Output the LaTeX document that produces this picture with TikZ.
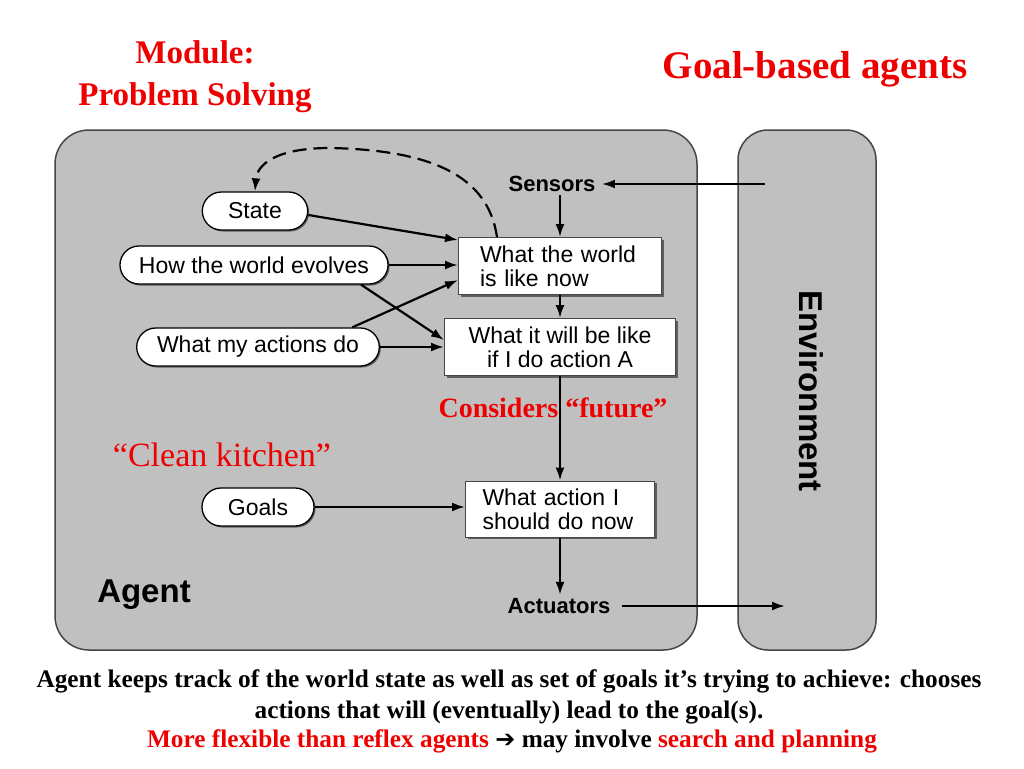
\documentclass[tikz,border=0pt]{standalone}
\usepackage{fontspec}
\setmainfont{Liberation Serif}
\newfontfamily\diafont{Liberation Sans}
\newfontfamily\symfont{DejaVu Sans}
\usetikzlibrary{arrows.meta,shadows,shapes.misc}
\definecolor{panelgray}{RGB}{192,192,192}
\definecolor{edgegray}{RGB}{70,70,70}
\definecolor{titlered}{RGB}{238,0,0}
\tikzset{
  x=1pt,y=-1pt,
  panel/.style={draw=edgegray,line width=1.5pt,fill=panelgray},
  oval/.style={rounded rectangle,draw=black,line width=1.3pt,fill=white,minimum height=38pt,inner xsep=15pt,font=\diafont\fontsize{23}{25}\selectfont,
    drop shadow={shadow xshift=1.5pt,shadow yshift=-1.5pt,fill=edgegray,opacity=0.8}},
  rbox/.style={rectangle,draw=edgegray,line width=1pt,fill=white,align=left,inner xsep=6pt,inner ysep=2pt,font=\diafont\fontsize{23}{24}\selectfont,
    drop shadow={shadow xshift=2pt,shadow yshift=-2pt,fill=edgegray,opacity=0.8}},
  plain/.style={font=\diafont\bfseries\fontsize{22}{24}\selectfont},
  arr/.style={line width=2.2pt,-{Latex[length=13pt,width=9pt]}},
  redtxt/.style={text=titlered},
}
\begin{document}
\begin{tikzpicture}
\useasboundingbox (0,0) rectangle (1024,768);
\fill[white] (0,0) rectangle (1024,768);

% titles
\node[redtxt,font=\bfseries\fontsize{33}{42}\selectfont,align=center] (mod) at (195,77) {Module:\\Problem Solving};
\node[redtxt,font=\bfseries\fontsize{39}{42}\selectfont] (gba) at (815,69) {Goal-based agents};

% panels
\draw[panel,rounded corners=34pt] (55,130) rectangle (697,650);
\draw[panel,rounded corners=30pt] (738,130) rectangle (876,650);
\node[font=\diafont\bfseries\fontsize{33}{35}\selectfont,rotate=-90] (env) at (811,391) {Environment};
\node[font=\diafont\bfseries\fontsize{33}{35}\selectfont] (agent) at (144,595) {Agent};

% nodes
\node[plain] (sens) at (552,184) {Sensors};
\node[plain] (act) at (559,606) {Actuators};
\node[oval,inner xsep=24pt] (state) at (255,211) {State};
\node[oval,inner xsep=17pt] (how) at (254,265) {How the world evolves};
\node[oval,inner xsep=17pt] (what) at (258,347) {What my actions do};
\node[oval,inner xsep=24pt] (goals) at (258,507) {Goals};
\node[rbox,minimum width=203pt,minimum height=57pt,text width=160pt] (b1) at (560,266) {What the world\\is like now};
\node[rbox,minimum width=231pt,minimum height=57pt,align=center] (b2) at (560,347) {What it will be like\\if I do action A};
\node[rbox,minimum width=189pt,minimum height=56pt,text width=155pt] (b3) at (560,509) {What action I\\should do now};

\coordinate (envin) at (765,184);
\coordinate (envout) at (785,607);

% connectors
\draw[arr] (envin) -- ([xshift=3pt]sens.east);
\draw[arr] ([xshift=8pt]act.east) -- (act.east -| envout);
\draw[arr] (b1.north |- sens.south) -- (b1.north);
\draw[arr] (b1.south) -- (b2.north);
\draw[arr] (b2.south) -- (b3.north);
\draw[arr] (b3.south) -- (b3.south |- act.north);
\draw[arr] ([yshift=-4pt]state.east) -- ([yshift=26pt]b1.west);
\draw[arr] (how.east) -- (how.east -| b1.west);
\draw[arr] ([xshift=-8pt]how.south east) -- ([yshift=7pt]b2.west);
\draw[arr] ([xshift=-8pt]what.north east) -- ([yshift=-14pt]b1.west);
\draw[arr] (what.east) -- (what.east -| b2.west);
\draw[arr] (goals.east) -- (goals.east -| b3.west);
\draw[line width=2.2pt,dashed,dash pattern=on 14pt off 7pt,-{Latex[length=13pt,width=9pt]}]
  ([xshift=-63pt]b1.north) .. controls (488,175) and (430,150) .. (330,148)
  .. controls (275,148) and (257,165) .. (state.north);

% red labels
\node[redtxt,font=\bfseries\fontsize{28}{30}\selectfont] (fut) at (553,408) {Considers \textquotedblleft future\textquotedblright};
\node[redtxt,font=\fontsize{34}{36}\selectfont] (kitchen) at (222,455) {\textquotedblleft Clean kitchen\textquotedblright};

% bottom text
\node[font=\bfseries\fontsize{25.3}{31}\selectfont,align=center] (cap) at (509,697) {Agent keeps track of the world state as well as set of goals it’s trying to achieve: chooses\\actions that will (eventually) lead to the goal(s).};
\node[font=\bfseries\fontsize{25.3}{31}\selectfont] (cap2) at (512,741) {\textcolor{titlered}{More flexible than reflex agents} {\symfont\fontsize{24}{26}\selectfont ➔} may involve \textcolor{titlered}{search and planning}};
\end{tikzpicture}
\end{document}
